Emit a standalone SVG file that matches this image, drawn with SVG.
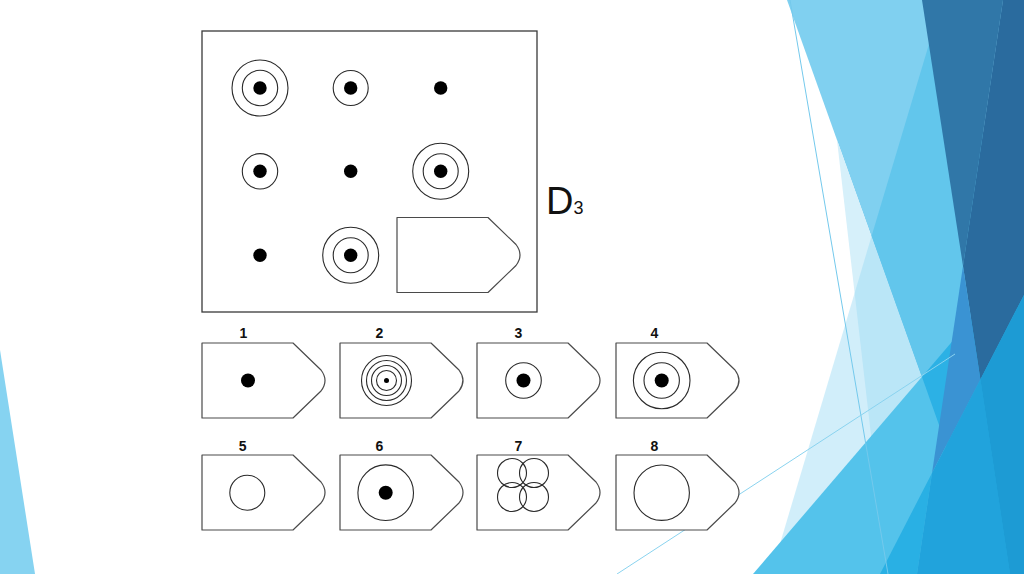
<svg xmlns="http://www.w3.org/2000/svg" xmlns:xlink="http://www.w3.org/1999/xlink" width="1024" height="574" viewBox="0 0 1024 574">
  <style>
    .frame { fill: #ffffff; stroke: #3a3a3a; stroke-width: 1.3; }
    .tag { fill: #ffffff; stroke: #4a4a4a; stroke-width: 1.2; stroke-linejoin: round; }
    .ring { fill: none; stroke: #2a2a2a; stroke-width: 1.1; }
    .dot { fill: #000000; }
    .num { font-family: "Liberation Sans", Arial, sans-serif; font-weight: bold; font-size: 14px; fill: #111111; text-anchor: middle; }
    .title { font-family: "Liberation Sans", Arial, sans-serif; fill: #111111; }
    .thin { fill: none; stroke-width: 1; }
  </style>
  <defs>
    <path id="tagShape" d="M0,0 H91 L119,27 Q127,37.5 119,48 L91,75 H0 Z"/>
  </defs>

  <rect x="0" y="0" width="1024" height="574" fill="#ffffff"/>

  <!-- background facets -->
  <g id="background">
    <polygon points="0,350 35,574 0,574" fill="#86d3f1"/>
    <polygon points="787,0 1024,0 1024,574 992,574" fill="#80d0f0"/>
    <polygon points="837,140 887,574 992,574" fill="#d6f0fa"/>
    <polygon points="871.6,236 771,574 992,574" fill="#9ad9f3" fill-opacity="0.45"/>
    <polygon points="929,44 871.6,236 992,574 1024,574 1024,200" fill="#62c6ec"/>
    <polygon points="753,574 962,330 1024,258 1024,574" fill="#54c3eb"/>
    <polygon points="922,377 962,330 1024,258 1024,574 992,574" fill="#2cb1e5"/>
    <polygon points="922,0 1003,0 963,266" fill="#3077a8"/>
    <polygon points="1003,0 1024,0 1024,295 980.4,379.4 963,266" fill="#2a6b9e"/>
    <polygon points="963,266 980.4,379.4 932,473" fill="#3a93d3"/>
    <polygon points="932,473 880,574 917,574" fill="#29b0e4"/>
    <polygon points="980.4,379.4 932,473 917,574 1010,574" fill="#21a3dc"/>
    <polygon points="980.4,379.4 1024,295 1024,574 1010,574" fill="#1d9bd4"/>
    <line class="thin" x1="790" y1="0" x2="888" y2="574" stroke="#74c9ec"/>
    <line class="thin" x1="617" y1="574" x2="955" y2="354" stroke="#8ad3ef"/>
  </g>

  <!-- matrix -->
  <g id="matrix">
    <rect class="frame" x="202" y="31" width="335" height="281"/>
  </g>
  <g id="cell-1-1">
    <circle class="ring" cx="260" cy="88" r="28"/>
    <circle class="ring" cx="260" cy="88" r="17.7"/>
    <circle class="dot" cx="260" cy="88" r="6.7"/>
  </g>
  <g id="cell-1-2">
    <circle class="ring" cx="350.7" cy="88" r="17.5"/>
    <circle class="dot" cx="350.7" cy="88" r="6.7"/>
  </g>
  <g id="cell-1-3">
    <circle class="dot" cx="440.7" cy="88" r="6.7"/>
  </g>
  <g id="cell-2-1">
    <circle class="ring" cx="260" cy="171.3" r="17.7"/>
    <circle class="dot" cx="260" cy="171.3" r="6.7"/>
  </g>
  <g id="cell-2-2">
    <circle class="dot" cx="350.7" cy="171.3" r="6.7"/>
  </g>
  <g id="cell-2-3">
    <circle class="ring" cx="440.7" cy="171.3" r="28"/>
    <circle class="ring" cx="440.7" cy="171.3" r="17.5"/>
    <circle class="dot" cx="440.7" cy="171.3" r="6.7"/>
  </g>
  <g id="cell-3-1">
    <circle class="dot" cx="260" cy="255.3" r="6.7"/>
  </g>
  <g id="cell-3-2">
    <circle class="ring" cx="350.7" cy="255.3" r="28"/>
    <circle class="ring" cx="350.7" cy="255.3" r="17.5"/>
    <circle class="dot" cx="350.7" cy="255.3" r="6.7"/>
  </g>
  <g id="cell-3-3">
    <use xlink:href="#tagShape" href="#tagShape" class="tag" x="397" y="217.5"/>
  </g>

  <g id="title">
    <text class="title" x="546" y="213.7" font-size="38">D<tspan font-size="18">3</tspan></text>
  </g>

  <!-- options -->
  <g id="option-1">
    <text class="num" x="243.3" y="337.7">1</text>
    <use xlink:href="#tagShape" href="#tagShape" class="tag" x="202" y="343"/>
    <circle class="dot" cx="248" cy="380.5" r="7"/>
  </g>
  <g id="option-2">
    <text class="num" x="379.3" y="337.7">2</text>
    <use xlink:href="#tagShape" href="#tagShape" class="tag" x="340" y="343"/>
    <circle class="ring" cx="386.5" cy="380.5" r="25"/>
    <circle class="ring" cx="386.5" cy="380.5" r="20"/>
    <circle class="ring" cx="386.5" cy="380.5" r="15"/>
    <circle class="ring" cx="386.5" cy="380.5" r="10"/>
    <circle class="dot" cx="386.5" cy="380.5" r="2.5"/>
  </g>
  <g id="option-3">
    <text class="num" x="518.3" y="337.7">3</text>
    <use xlink:href="#tagShape" href="#tagShape" class="tag" x="477" y="343"/>
    <circle class="ring" cx="523.5" cy="380.5" r="17.8"/>
    <circle class="dot" cx="523.5" cy="380.5" r="7"/>
  </g>
  <g id="option-4">
    <text class="num" x="654.3" y="337.7">4</text>
    <use xlink:href="#tagShape" href="#tagShape" class="tag" x="616" y="343"/>
    <circle class="ring" cx="661.7" cy="380.5" r="28.3"/>
    <circle class="ring" cx="661.7" cy="380.5" r="17.7"/>
    <circle class="dot" cx="661.7" cy="380.5" r="7"/>
  </g>
  <g id="option-5">
    <text class="num" x="242.7" y="450.7">5</text>
    <use xlink:href="#tagShape" href="#tagShape" class="tag" x="202" y="455"/>
    <circle class="ring" cx="247.3" cy="492.7" r="17.5"/>
  </g>
  <g id="option-6">
    <text class="num" x="379.3" y="450.7">6</text>
    <use xlink:href="#tagShape" href="#tagShape" class="tag" x="340" y="455"/>
    <circle class="ring" cx="385.7" cy="492.7" r="27.8"/>
    <circle class="dot" cx="385.7" cy="492.7" r="7"/>
  </g>
  <g id="option-7">
    <text class="num" x="518.3" y="450.7">7</text>
    <use xlink:href="#tagShape" href="#tagShape" class="tag" x="477" y="455"/>
    <circle class="ring" cx="512" cy="473" r="14.5"/>
    <circle class="ring" cx="534" cy="473" r="14.5"/>
    <circle class="ring" cx="512" cy="497" r="14.5"/>
    <circle class="ring" cx="534" cy="497" r="14.5"/>
  </g>
  <g id="option-8">
    <text class="num" x="654.3" y="450.7">8</text>
    <use xlink:href="#tagShape" href="#tagShape" class="tag" x="616" y="455"/>
    <circle class="ring" cx="661.7" cy="492.7" r="27.7"/>
  </g>
</svg>
